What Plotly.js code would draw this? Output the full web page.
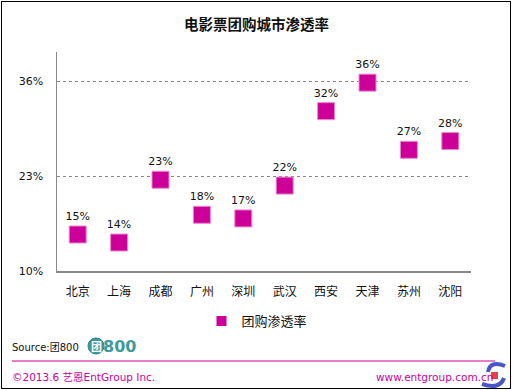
<!DOCTYPE html>
<html>
<head>
<meta charset="utf-8">
<script src="https://cdn.plot.ly/plotly-3.0.1.min.js"></script>
<style>
  html, body { margin: 0; padding: 0; background: #fff; }
  #wrap { position: relative; width: 513px; height: 390px; }
  #chart { position: absolute; left: 0; top: 0; width: 513px; height: 390px; }
  #frame { position: absolute; left: 1px; top: 1px; width: 508px; height: 386px; border: 1.5px solid #000; pointer-events: none; }
</style>
</head>
<body>
<div id="wrap"><div id="chart"></div><div id="frame"></div></div>
<script>
// ---- data ----
const cities = ["北京", "上海", "成都", "广州", "深圳", "武汉", "西安", "天津", "苏州", "沈阳"];
const penetration = [15.0, 13.9, 22.5, 17.7, 17.2, 21.7, 31.9, 35.8, 26.6, 27.8];
const yTicks = [10, 23, 36];
const yTickLabels = ["10%", "23%", "36%"];
const seriesName = "团购渗透率";
const chartTitle = "电影票团购城市渗透率";

// ---- layout helpers (pixel -> paper) ----
const L = 57, R = 471, T = 52, B = 271;
const px = v => (v - L) / (R - L);
const py = v => (B - v) / (B - T);

const CJK = "Verdana, 'DejaVu Sans', 'Noto Sans CJK SC', sans-serif";
const MAG = "#CC0099";

const traces = [
  {
    type: "scatter",
    mode: "markers+text",
    x: cities,
    y: penetration,
    texttemplate: "%{y:.0f}%",
    textposition: "top center",
    textfont: { family: CJK, size: 11, color: "#111" },
    marker: { symbol: "square", size: 17, color: MAG, line: { color: "#EE88CC", width: 1 } },
    showlegend: false,
    hoverinfo: "skip",
    cliponaxis: false
  },
  {
    type: "scatter",
    mode: "markers",
    x: [null],
    y: [null],
    name: seriesName,
    marker: { symbol: "square", size: 10, color: MAG },
    showlegend: true
  }
];

const shapes = [
  // footer line
  { type: "line", xref: "paper", yref: "paper", x0: px(12), x1: px(495), y0: py(361), y1: py(361),
    line: { color: MAG, width: 1.2 } },
  // 团800 logo circle
  { type: "circle", xref: "paper", yref: "paper", x0: px(88), x1: px(104), y0: py(338), y1: py(354),
    fillcolor: "#3E9A9C", line: { color: "#2E8588", width: 1 } },
  // entgroup logo (approximation)
  { type: "path", xref: "paper", yref: "paper",
    path: `M ${px(505)},${py(366)} Q ${px(490)},${py(360)} ${px(488)},${py(372)}`,
    line: { color: "#4A55C8", width: 4 } },
  { type: "path", xref: "paper", yref: "paper",
    path: `M ${px(482)},${py(384)} Q ${px(500)},${py(390)} ${px(504)},${py(378)}`,
    line: { color: "#4A55C8", width: 4 } },
  { type: "rect", xref: "paper", yref: "paper", x0: px(491), x1: px(498), y0: py(372), y1: py(379),
    fillcolor: "#E8404A", line: { width: 0 } }
];

const annotations = [
  { xref: "paper", yref: "paper", x: px(10), y: py(347), xanchor: "left", yanchor: "middle",
    text: "Source:团800", showarrow: false, font: { family: CJK, size: 10, color: "#111" } },
  { xref: "paper", yref: "paper", x: px(96), y: py(345.5), xanchor: "center", yanchor: "middle",
    text: "<b>团</b>", showarrow: false, font: { family: "'Noto Sans CJK SC', sans-serif", size: 11, color: "#fff" } },
  { xref: "paper", yref: "paper", x: px(101), y: py(346.5), xanchor: "left", yanchor: "middle",
    text: "<b>800</b>", showarrow: false, font: { family: "'DejaVu Sans', sans-serif", size: 16, color: "#3E9A9C" } },
  { xref: "paper", yref: "paper", x: px(10), y: py(377), xanchor: "left", yanchor: "middle",
    text: "©2013.6 艺恩EntGroup Inc.", showarrow: false, font: { family: CJK, size: 10.5, color: MAG } },
  { xref: "paper", yref: "paper", x: px(495), y: py(377), xanchor: "right", yanchor: "middle",
    text: "www.entgroup.com.cn", showarrow: false, font: { family: CJK, size: 10.5, color: MAG } }
];

const layout = {
  width: 513,
  height: 390,
  margin: { l: L, r: 513 - R, t: T, b: 390 - B, pad: 0 },
  paper_bgcolor: "#fff",
  plot_bgcolor: "#fff",
  title: {
    text: "<b>" + chartTitle + "</b>",
    font: { family: "'Noto Sans CJK SC', sans-serif", size: 14.5, color: "#111" },
    x: 0.5, xanchor: "center", xref: "container",
    y: 1 - 25 / 390, yanchor: "middle", yref: "container"
  },
  xaxis: {
    type: "category",
    range: [-0.5, cities.length - 0.5],
    showline: true, linecolor: "#888", linewidth: 1.5,
    showgrid: false, zeroline: false, ticks: "",
    ticklabelstandoff: 9,
    tickfont: { family: "'Noto Sans CJK SC', sans-serif", size: 12, color: "#111" },
    fixedrange: true
  },
  yaxis: {
    range: [10, 40],
    tickvals: yTicks,
    ticktext: yTickLabels,
    showline: true, linecolor: "#888", linewidth: 1.5,
    showgrid: true, gridcolor: "#888", gridwidth: 1, griddash: "dot",
    zeroline: false, ticks: "",
    ticklabelstandoff: 10,
    tickfont: { family: CJK, size: 11, color: "#111" },
    fixedrange: true
  },
  showlegend: true,
  legend: {
    orientation: "h",
    x: px(257), xanchor: "center", xref: "paper",
    y: py(321), yanchor: "middle", yref: "paper",
    font: { family: "'Noto Sans CJK SC', sans-serif", size: 13, color: "#111" },
    bgcolor: "rgba(0,0,0,0)",
    itemwidth: 30
  },
  shapes: shapes,
  annotations: annotations
};

Plotly.newPlot("chart", traces, layout, { staticPlot: true, displayModeBar: false });
</script>
</body>
</html>
